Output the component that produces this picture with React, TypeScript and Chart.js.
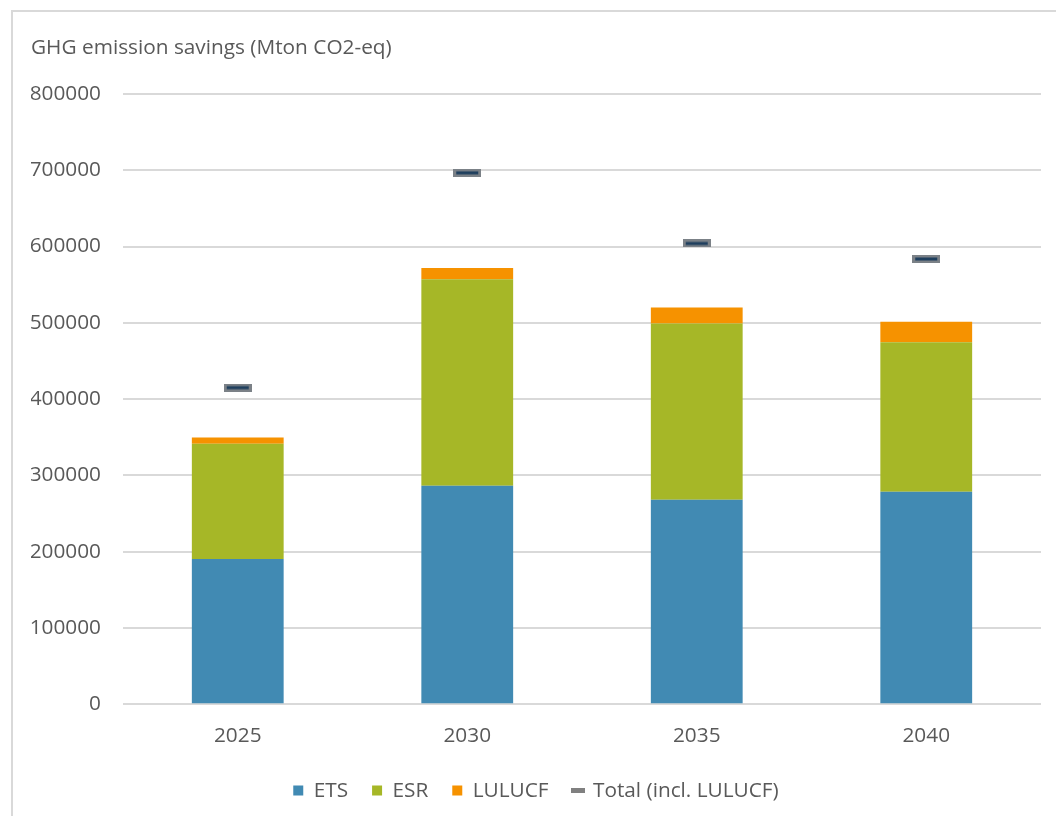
import React, { useEffect, useRef } from 'react';
import { Chart, registerables } from 'chart.js';

Chart.register(...registerables);

const categories = ['2025', '2030', '2035', '2040'];
const etsValues = [190500, 286500, 268000, 278500];
const esrValues = [151000, 270500, 231000, 196000];
const lulucfValues = [8000, 15000, 21000, 27000];
const totalValues = [415000, 696600, 604000, 583700];
const yMin = 0;
const yMax = 800000;
const yStep = 100000;
const titleText = 'GHG emission savings (Mton CO2-eq)';
const seriesNames = ['ETS', 'ESR', 'LULUCF', 'Total (incl. LULUCF)'];

const FONT = '"Open Sans", "Liberation Sans", sans-serif';
const FS = 20.8;
const TEXT = '#595959';

function makeMarker(): HTMLCanvasElement {
  const c = document.createElement('canvas');
  c.width = 28;
  c.height = 8;
  const g = c.getContext('2d')!;
  g.fillStyle = '#7b8187';
  g.fillRect(0, 0, 28, 8);
  g.fillStyle = '#1f3f5e';
  g.fillRect(3, 2.5, 22, 3);
  return c;
}

function makeDash(): HTMLCanvasElement {
  const c = document.createElement('canvas');
  c.width = 14;
  c.height = 5;
  const g = c.getContext('2d')!;
  g.fillStyle = '#808080';
  g.fillRect(0, 0, 14, 5);
  return c;
}

export default function App() {
  const ref = useRef<HTMLCanvasElement>(null);

  useEffect(() => {
    document.body.style.margin = '0';
    document.body.style.overflow = 'hidden';
    const marker = makeMarker();
    const dash = makeDash();
    const chart = new Chart(ref.current!, {
      type: 'bar',
      data: {
        labels: categories,
        datasets: [
          { type: 'bar', label: seriesNames[0], data: etsValues, backgroundColor: '#418AB3', stack: 'bars', order: 1, pointStyle: 'rect', borderWidth: 0 } as any,
          { type: 'bar', label: seriesNames[1], data: esrValues, backgroundColor: '#A6B727', stack: 'bars', order: 1, pointStyle: 'rect', borderWidth: 0 } as any,
          { type: 'bar', label: seriesNames[2], data: lulucfValues, backgroundColor: '#F69200', stack: 'bars', order: 1, pointStyle: 'rect', borderWidth: 0 } as any,
          {
            type: 'line', label: seriesNames[3], data: totalValues, stack: 'total', order: 0,
            showLine: false, pointStyle: marker, pointRadius: 5, borderColor: '#808080', backgroundColor: '#808080',
          } as any,
        ],
      },
      options: {
        responsive: false,
        animation: false,
        datasets: { bar: { barPercentage: 0.4, categoryPercentage: 1 } },
        layout: { padding: { left: 31, right: 15, top: 0, bottom: 5 } },
        scales: {
          x: {
            stacked: true,
            grid: { display: false, drawTicks: false },
            border: { display: false },
            ticks: { color: TEXT, font: { family: FONT, size: FS }, padding: 19 },
            afterFit: (s: any) => { s.height = 52; },
          },
          y: {
            stacked: true,
            min: yMin,
            max: yMax,
            ticks: { stepSize: yStep, color: TEXT, font: { family: FONT, size: FS }, padding: 22, callback: (v: any) => String(v) },
            grid: { color: '#d9d9d9', lineWidth: 2, drawTicks: false },
            border: { display: false },
            afterFit: (s: any) => { s.width = 92; },
          },
        },
        plugins: {
          title: {
            display: true, text: titleText, align: 'start', color: TEXT,
            font: { family: FONT, size: FS, weight: 'normal' }, padding: { top: 36, bottom: 33 },
          },
          tooltip: { enabled: false },
          legend: {
            position: 'bottom',
            labels: {
              color: TEXT, font: { family: FONT, size: FS }, usePointStyle: true, boxWidth: 10, boxHeight: 10, padding: 24,
              sort: (a: any, b: any) => a.datasetIndex - b.datasetIndex,
              generateLabels: (c: any) => {
                const items = (Chart.defaults.plugins.legend.labels as any).generateLabels(c);
                items.forEach((it: any) => { if (it.datasetIndex === 3) it.pointStyle = dash; });
                return items;
              },
            },
          },
        },
      } as any,
    });
    return () => chart.destroy();
  }, []);

  return (
    <div style={{ position: 'relative', width: 1056, height: 816, overflow: 'hidden', background: '#fff' }}>
      <div style={{ position: 'absolute', left: 11, top: 10, width: 1100, height: 900, border: '2px solid #d9d9d9', boxSizing: 'border-box' }} />
      <canvas ref={ref} width={1056} height={816} style={{ position: 'absolute', left: 0, top: 0 }} />
    </div>
  );
}
